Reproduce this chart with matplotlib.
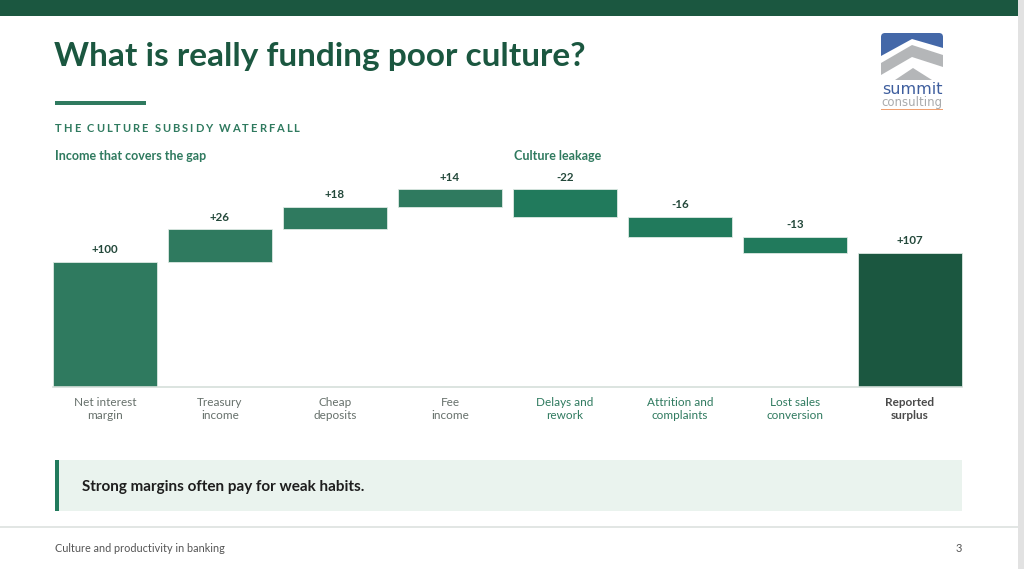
import matplotlib.pyplot as plt
from matplotlib.patches import Rectangle, FancyBboxPatch, Polygon

plt.rcParams['font.family'] = ['Lato', 'DejaVu Sans']

W, H = 1024, 569

# waterfall data
categories = ['Net interest\nmargin', 'Treasury\nincome', 'Cheap\ndeposits', 'Fee\nincome',
              'Delays and\nrework', 'Attrition and\ncomplaints', 'Lost sales\nconversion',
              'Reported\nsurplus']
steps = [100, 26, 18, 14, -22, -16, -13]
kinds = ['up', 'up', 'up', 'up', 'down', 'down', 'down', 'total']

DARK = '#1B5740'
UP = '#2F7A5F'
DOWN = '#217A5C'


def px(x, y):
    # pixel box -> figure fraction
    return x / W, 1 - y / H


def spaced_text(ax, x, y, s, track, **kw):
    r = ax.figure.canvas.get_renderer()
    for ch in s:
        t = ax.text(x, y, ch, **kw)
        w = t.get_window_extent(renderer=r).width
        if ch == ' ':
            w = kw.get('fontsize', 8) * 0.35
        x += w + track


fig = plt.figure(figsize=(W / 100, H / 100), dpi=100)
bg = fig.add_axes([0, 0, 1, 1])
bg.set_xlim(0, W)
bg.set_ylim(H, 0)
bg.axis('off')

# slide chrome
bg.add_patch(Rectangle((1018, 0), 6, H, color='#E2E2E2', lw=0))
bg.add_patch(Rectangle((0, 0), 1018, 16, color=DARK, lw=0))
bg.text(54, 56, 'What is really funding poor culture?', fontsize=24, fontweight='bold',
        color=DARK, va='center')
bg.add_patch(Rectangle((55, 101), 91, 4, color=UP, lw=0))
spaced_text(bg, 55, 128, 'THE CULTURE SUBSIDY WATERFALL', 1.9, fontsize=8,
            fontweight='bold', color=UP, va='center')
bg.text(55, 156, 'Income that covers the gap', fontsize=9, fontweight='bold',
        color=UP, va='center')
bg.text(514, 156, 'Culture leakage', fontsize=9, fontweight='bold',
        color=UP, va='center')

# logo
bg.add_patch(FancyBboxPatch((881, 33), 62, 40, boxstyle='round,pad=0,rounding_size=4',
                            color='#4468A8', lw=0))
bg.add_patch(Polygon([(881, 56), (912, 39), (943, 48), (943, 80), (881, 80)],
                     closed=True, color='white', lw=0))
bg.add_patch(Polygon([(881, 63), (912, 45), (943, 55), (943, 67), (912, 57), (881, 75)],
                     closed=True, color='#B4B6B8', lw=0))
bg.add_patch(Polygon([(895, 80), (913, 68), (932, 80)], closed=True, color='#B4B6B8', lw=0))
bg.text(912, 89, 'summit', fontsize=11.5, color='#3E5E9E', ha='center', va='center',
        family=['DejaVu Sans'])
bg.text(912, 102, 'consulting', fontsize=8.5, color='#A8AAAC', ha='center', va='center',
        family=['DejaVu Sans'])
bg.add_patch(Rectangle((881, 108.5), 62, 1.3, color='#F0A070', lw=0))

# callout
bg.add_patch(Rectangle((55, 460), 907, 51, color='#EAF3EE', lw=0))
bg.add_patch(Rectangle((55, 460), 4, 51, color=DOWN, lw=0))
bg.text(82, 487, 'Strong margins often pay for weak habits.', fontsize=11,
        fontweight='bold', color='#1E1E1E', va='center')

# footer
bg.add_patch(Rectangle((0, 526), 1018, 1.5, color='#E2E6E4', lw=0))
bg.text(55, 548, 'Culture and productivity in banking', fontsize=7.8, color='#555555',
        va='center')
bg.text(962, 548, '3', fontsize=8, color='#555555', va='center', ha='right')

# waterfall chart
l, b = px(47.5, 387)
ax = fig.add_axes([l, b, 920 / W, 225 / H])
ax.patch.set_alpha(0)
ax.set_xlim(-0.5, len(categories) - 0.5)
ax.set_ylim(0, 180)

bottoms, heights, labels = [], [], []
level = 0
for s in steps:
    if s >= 0:
        bottoms.append(level)
        heights.append(s)
    else:
        bottoms.append(level + s)
        heights.append(-s)
    level += s
    labels.append(f'{s:+d}')
bottoms.append(0)
heights.append(level)
labels.append(f'{level:+d}')

colors = [{'up': UP, 'down': DOWN, 'total': DARK}[k] for k in kinds]
x = range(len(categories))
ax.bar(x, heights, bottom=bottoms, width=0.896, color=colors,
       edgecolor='#DDE9E3', linewidth=0.6)

for i, (bt, h, lab) in enumerate(zip(bottoms, heights, labels)):
    ax.annotate(lab, (i, bt + h), xytext=(0, 5), textcoords='offset points',
                ha='center', va='bottom', fontsize=8.3, fontweight='bold', color='#23483A')

ax.set_xticks(list(x))
ax.set_xticklabels(categories, fontsize=8.5, linespacing=1.3)
for lab, k in zip(ax.get_xticklabels(), kinds):
    if k == 'up':
        lab.set_color('#66706B')
    elif k == 'down':
        lab.set_color(UP)
    else:
        lab.set_color('#4A4A4A')
        lab.set_fontweight('bold')
ax.tick_params(axis='x', length=0, pad=7)
ax.set_yticks([])
for side in ['left', 'right', 'top']:
    ax.spines[side].set_visible(False)
ax.spines['bottom'].set_color('#D6DFDA')
ax.spines['bottom'].set_linewidth(1.2)
ax.spines['bottom'].set_bounds(-0.448, len(categories) - 0.552)

fig.savefig('out.png', dpi=100)
